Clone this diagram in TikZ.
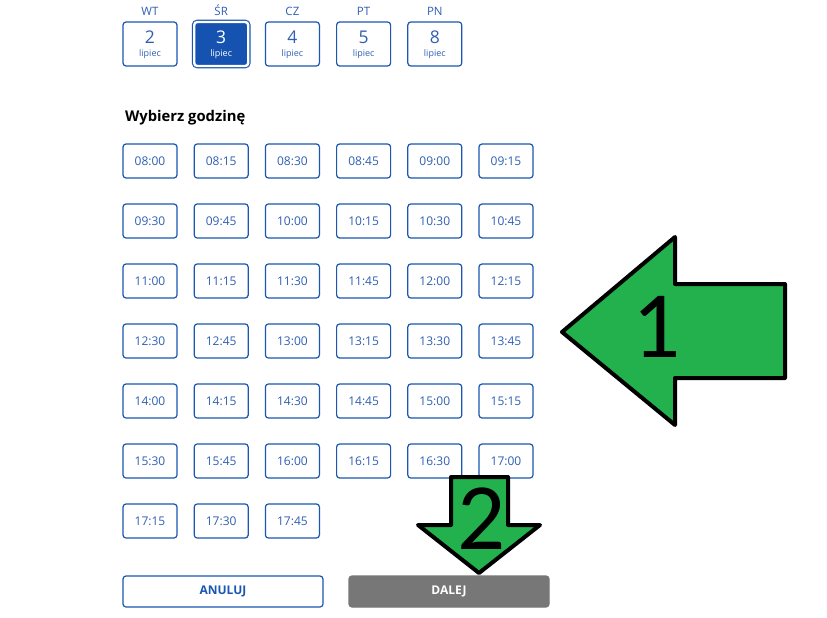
\documentclass[tikz,border=0pt]{standalone}
\usepackage{fontspec}
\setmainfont{Open Sans}
\newfontfamily\paintfont{Carlito}
\usetikzlibrary{positioning}

\definecolor{slotblue}{HTML}{1A57B2}
\definecolor{txtblue}{HTML}{2F5FB3}
\definecolor{dayfill}{HTML}{1653B0}
\definecolor{btngray}{HTML}{777777}
\definecolor{paintgreen}{HTML}{22B14C}

\begin{document}
\begin{tikzpicture}[x=1pt,y=-1pt,
        box/.style={draw=slotblue, line width=1.2pt, rounded corners=3pt, inner sep=0pt},
        slot/.style={box, minimum width=54pt, minimum height=34pt, text=txtblue,
            font=\fontsize{12}{12}\selectfont},
        daybox/.style={box, minimum width=54pt, minimum height=44pt},
        dayon/.style={daybox, fill=dayfill, draw=white, line width=2.4pt,
            preaction={draw=slotblue, line width=4.6pt}},
        dayname/.style={anchor=base, text=txtblue, font=\fontsize{11.5}{12}\selectfont},
        daynum/.style={anchor=base, font=\fontsize{17.5}{17}\selectfont},
        month/.style={anchor=base, font=\fontsize{9}{9}\selectfont},
        button/.style={box, minimum width=200pt, minimum height=31pt,
            font=\bfseries\fontsize{12}{12}\selectfont},
        bigarrow/.style={fill=paintgreen, draw=black, line width=4pt, line join=round},
        number/.style={anchor=base, font=\paintfont\fontsize{95}{95}\selectfont}]
    \fill[white] (0,0) rectangle (827,618);

    \foreach \d/\n/\s/\col [count=\i from 0] in
            {WT/2/daybox/txtblue, ŚR/3/dayon/white, CZ/4/daybox/txtblue,
             PT/5/daybox/txtblue, PN/8/daybox/txtblue} {
        \node[\s] (d\i) at (150+71.2*\i,44) {};
        \node[dayname] (w\i) at (150+71.2*\i,15.7) {\d};
        \node[daynum, text=\col] (n\i) at (150+71.2*\i,43.3) {\n};
        \node[month, text=\col] (m\i) at (150+71.2*\i,56.5) {lipiec};
    }

    \node[anchor=base west, font=\bfseries\fontsize{14.8}{15}\selectfont] (title) at (121.5,121) {Wybierz godzinę};

    \foreach \t [count=\i from 0] in
            {08:00,08:15,08:30,08:45,09:00,09:15,
             09:30,09:45,10:00,10:15,10:30,10:45,
             11:00,11:15,11:30,11:45,12:00,12:15,
             12:30,12:45,13:00,13:15,13:30,13:45,
             14:00,14:15,14:30,14:45,15:00,15:15,
             15:30,15:45,16:00,16:15,16:30,17:00,
             17:15,17:30,17:45} {
        \pgfmathtruncatemacro\c{mod(\i,6)}
        \pgfmathtruncatemacro\r{div(\i,6)}
        \node[slot] (t\i) at (150+71.2*\c,161+60*\r) {\t};
    }

    \node[button, text=slotblue] (cancel) at (223,591.5) {ANULUJ};
    \node[button, draw=btngray, fill=btngray, text=white] (next) at (449,591.5) {DALEJ};

    % arrows
    \draw[bigarrow] (562,332) -- (675,237) -- (675,284) -- (785,284)
        -- (785,378) -- (675,378) -- (675,425) -- cycle;
    \node[number] (one) at (657,357) {1};
    \draw[bigarrow] (451,477) -- (508,477) -- (508,525) -- (540,525)
        -- (479,573) -- (418,525) -- (451,525) -- cycle;
    \node[number] (two) at (482,549) {2};
\end{tikzpicture}
\end{document}
